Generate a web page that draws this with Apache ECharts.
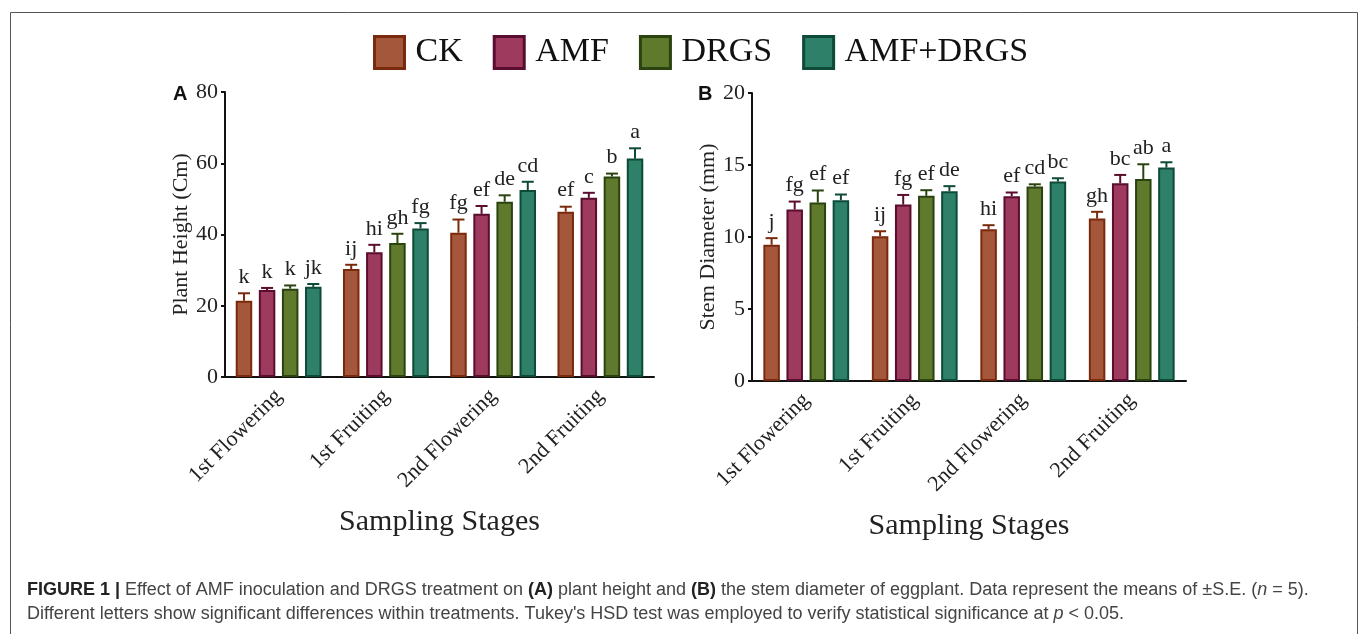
<!DOCTYPE html>
<html>
<head>
<meta charset="utf-8">
<script src="https://cdn.jsdelivr.net/npm/echarts@6/dist/echarts.min.js"></script>
<style>
    html, body { margin: 0; padding: 0; background: #fff; }
    .chart { width: 1358px; height: 634px; }
</style>
</head>
<body>
<div class="chart"></div>
<script>
// data
let stages = ['1st Flowering', '1st Fruiting', '2nd Flowering', '2nd Fruiting'];
let treatments = ['CK', 'AMF', 'DRGS', 'AMF+DRGS'];

// A: plant height (cm)
let heightCK = [21.4, 30.3, 40.5, 46.4];
let heightAMF = [24.4, 35.0, 45.8, 50.3];
let heightDRGS = [24.8, 37.6, 49.2, 56.3];
let heightBoth = [25.3, 41.7, 52.5, 61.3];
let heightSeCK = [2.1, 1.2, 3.7, 1.4];
let heightSeAMF = [0.6, 2.1, 2.2, 1.4];
let heightSeDRGS = [0.9, 2.6, 1.8, 0.8];
let heightSeBoth = [0.8, 1.5, 2.3, 2.9];
let heightLetCK = ['k', 'ij', 'fg', 'ef'];
let heightLetAMF = ['k', 'hi', 'ef', 'c'];
let heightLetDRGS = ['k', 'gh', 'de', 'b'];
let heightLetBoth = ['jk', 'fg', 'cd', 'a'];

// B: stem diameter (mm)
let stemCK = [9.46, 10.06, 10.54, 11.28];
let stemAMF = [11.91, 12.25, 12.83, 13.73];
let stemDRGS = [12.39, 12.86, 13.50, 14.03];
let stemBoth = [12.55, 13.18, 13.85, 14.82];
let stemSeCK = [0.46, 0.34, 0.28, 0.47];
let stemSeAMF = [0.55, 0.67, 0.26, 0.58];
let stemSeDRGS = [0.84, 0.39, 0.16, 1.02];
let stemSeBoth = [0.40, 0.35, 0.23, 0.37];
let stemLetCK = ['j', 'ij', 'hi', 'gh'];
let stemLetAMF = ['fg', 'fg', 'ef', 'bc'];
let stemLetDRGS = ['ef', 'ef', 'cd', 'ab'];
let stemLetBoth = ['ef', 'de', 'bc', 'a'];

let heightTicks = [0, 80, 20];
let stemTicks = [0, 20, 5];

(function() {
    let chartDom = document.querySelector('.chart');
    let myChart = echarts.init(chartDom);

    let serif = "'Liberation Serif', 'Times New Roman', serif";
    let sans = "'Liberation Sans', Arial, sans-serif";
    let fills = ['#a5573c', '#9d3a5d', '#5f7a2d', '#2e8069'];
    let borders = ['#7a2a0c', '#5a0d2e', '#2b430f', '#0e4a38'];
    let barW = 16.5;
    let pitch = barW * 1.4;

    let panels = [
        { means: [heightCK, heightAMF, heightDRGS, heightBoth],
          se: [heightSeCK, heightSeAMF, heightSeDRGS, heightSeBoth],
          letters: [heightLetCK, heightLetAMF, heightLetDRGS, heightLetBoth],
          ticks: heightTicks, name: 'Plant Height (Cm)', nameGap: 30 },
        { means: [stemCK, stemAMF, stemDRGS, stemBoth],
          se: [stemSeCK, stemSeAMF, stemSeDRGS, stemSeBoth],
          letters: [stemLetCK, stemLetAMF, stemLetDRGS, stemLetBoth],
          ticks: stemTicks, name: 'Stem Diameter (mm)', nameGap: 29 }
    ];

    let grids = [
        { left: 225, right: 704, top: 92, bottom: 257 },
        { left: 752, right: 172, top: 93, bottom: 253 }
    ];

    let xAxes = [], yAxes = [], series = [];
    panels.forEach(function(p, g) {
        xAxes.push({
            type: 'category',
            gridIndex: g,
            data: stages,
            name: 'Sampling Stages',
            nameLocation: 'middle',
            nameGap: 130,
            nameTextStyle: { fontFamily: serif, fontSize: 30, color: '#222' },
            axisLine: { lineStyle: { color: '#111', width: 2 } },
            axisTick: { alignWithLabel: true, length: 5, lineStyle: { color: '#111', width: 2 } },
            axisLabel: { rotate: 45, margin: 16, fontFamily: serif, fontSize: 22, color: '#222' }
        });
        yAxes.push({
            type: 'value',
            gridIndex: g,
            min: p.ticks[0],
            max: p.ticks[1],
            interval: p.ticks[2],
            name: p.name,
            nameLocation: 'middle',
            nameGap: p.nameGap,
            nameTextStyle: { fontFamily: serif, fontSize: 22, color: '#222' },
            splitLine: { show: false },
            axisLine: { show: true, lineStyle: { color: '#111', width: 2 } },
            axisTick: { show: true, length: 4, lineStyle: { color: '#111', width: 2 } },
            axisLabel: { margin: 7, fontFamily: serif, fontSize: 22, color: '#222' }
        });

        treatments.forEach(function(t, i) {
            series.push({
                name: t,
                type: 'bar',
                xAxisIndex: g,
                yAxisIndex: g,
                barWidth: barW,
                barGap: '40%',
                data: p.means[i],
                itemStyle: { color: fills[i], borderColor: borders[i], borderWidth: 2 }
            });
        });

        // whiskers (upper only) and Tukey letters
        treatments.forEach(function(t, i) {
            let rows = p.means[i].map(function(m, k) { return [k, m, p.se[i][k]]; });
            let lets = p.letters[i];
            series.push({
                type: 'custom',
                xAxisIndex: g,
                yAxisIndex: g,
                z: 5,
                data: rows,
                encode: { x: 0, y: 1 },
                renderItem: function(params, api) {
                    let k = api.value(0);
                    let base = api.coord([k, api.value(1)]);
                    let top = api.coord([k, api.value(1) + api.value(2)]);
                    let x = base[0] + (i - 1.5) * pitch;
                    let st = { stroke: borders[i], lineWidth: 2 };
                    return {
                        type: 'group',
                        children: [
                            { type: 'line', shape: { x1: x, y1: base[1], x2: x, y2: top[1] }, style: st },
                            { type: 'line', shape: { x1: x - 6, y1: top[1], x2: x + 6, y2: top[1] }, style: st },
                            { type: 'text', x: x, y: top[1] - 5,
                              style: { text: lets[params.dataIndex], fontFamily: serif, fontSize: 22,
                                       fill: '#222', align: 'center', verticalAlign: 'bottom' } }
                        ]
                    };
                }
            });
        });
    });

    let option = {
        animation: false,
        grid: grids,
        xAxis: xAxes,
        yAxis: yAxes,
        legend: {
            left: 368,
            top: 30,
            itemWidth: 30,
            itemHeight: 32,
            itemGap: 30,
            textStyle: { fontFamily: serif, fontSize: 34, color: '#111', padding: [0, 0, 0, 6] },
            data: treatments.map(function(t, i) {
                return { name: t, icon: 'rect', itemStyle: { color: fills[i], borderColor: borders[i], borderWidth: 3 } };
            })
        },
        graphic: [
            { type: 'rect', left: 8, top: 10, shape: { width: 1347, height: 640 },
              style: { fill: 'none', stroke: '#555', lineWidth: 1 } },
            { type: 'text', left: 173, top: 84,
              style: { text: 'A', font: 'bold 20px ' + sans, fill: '#111' } },
            { type: 'text', left: 698, top: 84,
              style: { text: 'B', font: 'bold 20px ' + sans, fill: '#111' } },
            { type: 'text', left: 27, top: 581,
              style: {
                  text: '{b|FIGURE 1 |} Effect of AMF inoculation and DRGS treatment on {b|(A)} plant height and {b|(B)} the stem diameter of eggplant. Data represent the means of ±S.E. ({i|n} = 5).',
                  fontFamily: sans, fontSize: 18, fill: '#444',
                  rich: { b: { fontWeight: 'bold', fill: '#222', fontFamily: sans, fontSize: 18 },
                          i: { fontStyle: 'italic', fontFamily: sans, fontSize: 18, fill: '#444' } }
              } },
            { type: 'text', left: 27, top: 605,
              style: {
                  text: "Different letters show significant differences within treatments. Tukey's HSD test was employed to verify statistical significance at {i|p} < 0.05.",
                  fontFamily: sans, fontSize: 18, fill: '#444',
                  rich: { i: { fontStyle: 'italic', fontFamily: sans, fontSize: 18, fill: '#444' } }
              } }
        ],
        series: series
    };
    myChart.setOption(option);
    window.addEventListener("resize", function() {
        myChart.resize();
    })
})();
</script>
</body>
</html>
